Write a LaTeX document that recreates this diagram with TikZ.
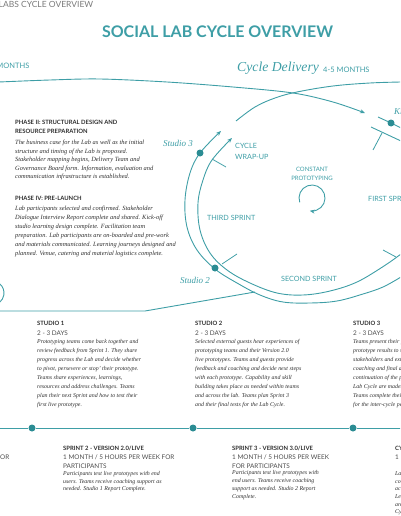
\documentclass[tikz,border=0pt]{standalone}
\usepackage{fontspec}
\usepackage{graphicx}
\setmainfont{Liberation Serif}
\newfontfamily\lato{Lato}
\usetikzlibrary{arrows.meta}
\definecolor{teal1}{HTML}{3E9EA6}
\definecolor{tealdot}{HTML}{2B8C93}
\definecolor{txt}{HTML}{2E2E2E}
\definecolor{graytxt}{HTML}{7A7A7A}
\begin{document}
\begin{tikzpicture}[x=1pt,y=-1pt,
  trk/.style={teal1, line width=0.9pt},
  tickln/.style={teal1, line width=0.8pt},
  tdot/.style={circle, fill=tealdot, inner sep=0pt, minimum size=7pt},
  arr/.style={-{Stealth[length=5pt,width=4pt]}},
  capl/.style={font=\lato\fontsize{7.2}{8}\selectfont, text=teal1, inner sep=0pt, anchor=west},
  studlab/.style={font=\fontsize{9}{10}\selectfont\itshape, text=teal1, inner sep=0pt, anchor=west},
  headtx/.style={font=\lato\bfseries\fontsize{5.9}{9}\selectfont, text=txt, inner sep=0pt, anchor=north west, align=left},
  daystx/.style={font=\lato\fontsize{6.4}{9}\selectfont, text=txt!85, inner sep=0pt, anchor=north west, align=left},
  bodytx/.style={font=\itshape\fontsize{5.9}{9}\selectfont, text=txt, inner sep=0pt, anchor=north west, align=left},
]
\useasboundingbox (0,0) rectangle (400,516);
\clip (0,0) rectangle (400,516);

% header texts
\node[anchor=west, inner sep=0pt, font=\lato\fontsize{8.5}{9}\selectfont, text=graytxt] (hdr) at (-1.5,4) {LABS CYCLE OVERVIEW};
\node[inner sep=0pt, font=\lato\bfseries\fontsize{15}{16}\selectfont, text=teal1] (title) at (217.5,32) {\resizebox{231pt}{!}{SOCIAL LAB CYCLE OVERVIEW}};
\node[anchor=east, inner sep=0pt, font=\lato\fontsize{7.5}{8}\selectfont, text=teal1] (prevm) at (29.5,66) {MONTHS};
\node[anchor=west, inner sep=0pt, font=\fontsize{13.7}{15}\selectfont\itshape, text=teal1] (cycdel) at (237,68) {Cycle Delivery};
\node[anchor=west, inner sep=0pt, font=\lato\fontsize{7.5}{8}\selectfont, text=teal1] (cycm) at (323,70) {4-5 MONTHS};

% flow line from the previous phase into the cycle
\draw[trk, arr] plot[smooth, tension=0.55] coordinates {(-1,82) (50,80) (100,79) (167,82) (233,87) (293,93) (333,102) (365,113)};
% top arc of the cycle
\draw[trk] plot[smooth, tension=0.6] coordinates {(236,121) (255,107) (275,98) (297,92) (333,86) (370,83) (401,82)};

% outer track
\draw[trk, arr] plot[smooth, tension=0.6] coordinates {(401,277) (383,287) (363,294) (337,301) (310,303) (283,302) (260,295) (237,283) (215,269) (197,250) (187,227) (185,200) (190,173) (200,153) (221,131)};
% inner track
\draw[trk, arr] plot[smooth, tension=0.6] coordinates {(401,254) (384,266) (357,282) (330,291) (303,295) (277,293) (250,283) (227,270) (210,253) (200,230) (198,203) (203,180) (212,160) (232,138)};
% top-right track pieces
\draw[trk] plot[smooth] coordinates {(378,117) (391,123) (401,128)};
\draw[trk] plot[smooth] coordinates {(371,127) (386,134) (401,141)};

% ticks
\draw[tickln] (382,133) -- (373,150);
\draw[tickln] (212,159) -- (226,167);
\draw[tickln] (222,264) -- (237,254);
\draw[tickln] (396,257) -- (383,250);

% bottom-left line from previous phase
\draw[trk] (-1,311) -- (145,311) -- (255,292);
\draw[trk] (-8,293) ++(-50:12) arc[start angle=-50, end angle=50, radius=12];

% dots on track
\node[tdot] (s3) at (200,153) {};
\node[tdot] (s2) at (215,268) {};
\node[tdot] (s1) at (391,123) {};

% constant prototyping loop
\draw[trk, arr] (312,198) ++(160:13) arc[start angle=160, end angle=460, radius=13];
\node[inner sep=0pt, font=\lato\fontsize{6}{9}\selectfont, text=teal1, align=center] (cp) at (312,173.5) {CONSTANT\\PROTOTYPING};

% track labels
\node[studlab] (l3) at (163,143) {Studio 3};
\node[studlab] (l2) at (180,280) {Studio 2};
\node[studlab] (l1) at (394,112) {Kick-off};
\node[capl] (wr1) at (235,146) {CYCLE};
\node[capl] (wr2) at (235,157) {WRAP-UP};
\node[capl] (third) at (207,218) {THIRD SPRINT};
\node[capl] (second) at (281,279) {SECOND SPRINT};
\node[capl] (first) at (368,199) {FIRST SPRINT};

% phase texts
\node[headtx] (p2h) at (15,119.5) {PHASE II: STRUCTURAL DESIGN AND\\RESOURCE PREPARATION};
\node[bodytx, font=\itshape\fontsize{6.4}{8.5}\selectfont] (p2b) at (15,140) {The business case for the Lab as well as the initial\\structure and timing of the Lab is proposed.\\Stakeholder mapping begins, Delivery Team and\\Governance Board form. Information, evaluation and\\communication infrastructure is established.};
\node[headtx] (p4h) at (15,195.5) {PHASE IV: PRE-LAUNCH};
\node[bodytx, font=\itshape\fontsize{6.4}{9}\selectfont] (p4b) at (15,206) {Lab participants selected and confirmed. Stakeholder\\Dialogue Interview Report complete and shared. Kick-off\\studio learning design complete. Facilitation team\\preparation. Lab participants are on-boarded and pre-work\\and materials communicated. Learning journeys designed and\\planned. Venue, catering and material logistics complete.};

% studio texts
\node[headtx] (st1h) at (37,320.5) {STUDIO 1};
\node[daystx] (st1d) at (37,330.5) {2 - 3 DAYS};
\node[bodytx] (st1b) at (37,339) {Prototyping teams come back together and\\review feedback from Sprint 1. They share\\progress across the Lab and decide whether\\to pivot, persevere or stop' their prototype.\\Teams share experiences, learnings,\\resources and address challenges. Teams\\plan their next Sprint and how to test their\\first live prototype.};
\node[headtx] (st2h) at (195,320.5) {STUDIO 2};
\node[daystx] (st2d) at (195,330.5) {2 - 3 DAYS};
\node[bodytx] (st2b) at (195,339) {Selected external guests hear experiences of\\prototyping teams and their Version 2.0\\live prototypes. Teams and guests provide\\feedback and coaching and decide next steps\\with each prototype. Capability and skill\\building takes place as needed within teams\\and across the lab. Teams plan Sprint 3\\and their final tests for the Lab Cycle.};
\node[headtx] (st3h) at (353,320.5) {STUDIO 3};
\node[daystx] (st3d) at (353,330.5) {2 - 3 DAYS};
\node[bodytx] (st3b) at (353,339) {Teams present their final\\prototype results to senior\\stakeholders and external\\coaching and final decisions\\continuation of the prototypes\\Lab Cycle are made.\\Teams complete their reports\\for the inter-cycle period.};

% timeline
\coordinate (tl0) at (-1,428);
\coordinate (tl1) at (401,428);
\node[tdot] (d1) at (32,428) {};
\node[tdot] (d2) at (193,428) {};
\node[tdot] (d3) at (353,428) {};
\draw[trk, line width=0.8pt] (tl0) -- (d1) -- (d2) -- (d3) -- (tl1);

% sprint texts
\node[daystx, anchor=north east, align=right] (sp1m) at (9.5,454.5) {1 MONTH / 5 HOURS PER WEEK FOR};
\node[headtx] (sp2h) at (63,445.5) {SPRINT 2 - VERSION 2.0/LIVE};
\node[daystx] (sp2m) at (63,454.5) {1 MONTH / 5 HOURS PER WEEK FOR\\PARTICIPANTS};
\node[bodytx, font=\itshape\fontsize{5.9}{7.7}\selectfont] (sp2b) at (63,471) {Participants test live prototypes with end\\users. Teams receive coaching support as\\needed. Studio 1 Report Complete.};
\node[headtx] (sp3h) at (232,445.5) {SPRINT 3 - VERSION 3.0/LIVE};
\node[daystx] (sp3m) at (232,454.5) {1 MONTH / 5 HOURS PER WEEK\\FOR PARTICIPANTS};
\node[bodytx, font=\itshape\fontsize{5.9}{7.9}\selectfont] (sp3b) at (232,470) {Participants test live prototypes with\\end users. Teams receive coaching\\support as needed. Studio 2 Report\\Complete.};
\node[headtx] (cwh) at (395,445.5) {CYCLE WRAP-UP};
\node[daystx] (cwm) at (395,454.5) {1 MONTH};
\node[bodytx, font=\itshape\fontsize{5.9}{7.7}\selectfont] (cwb) at (395,471) {Lab Cycle Report\\compiled and shared\\across the Lab.\\Lessons learned\\are captured.\\Cycle closes.};
\end{tikzpicture}
\end{document}
